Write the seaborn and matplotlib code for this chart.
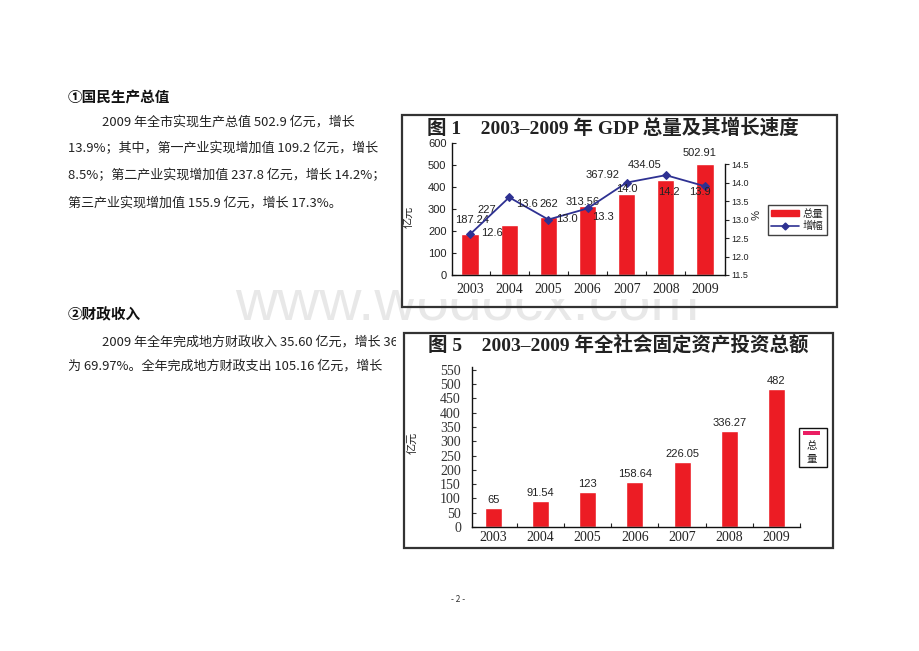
import numpy as np
import pandas as pd
import matplotlib
matplotlib.use('Agg')
import matplotlib.pyplot as plt
import seaborn as sns
from matplotlib.patches import Rectangle, Patch
from matplotlib.lines import Line2D
from matplotlib.transforms import Bbox, TransformedBbox

# ---------------- data ----------------
years = ['2003', '2004', '2005', '2006', '2007', '2008', '2009']
gdp_total = [187.24, 227, 262, 313.56, 367.92, 434.05, 502.91]
gdp_growth = [12.6, 13.6, 13.0, 13.3, 14.0, 14.2, 13.9]
invest_total = [65, 91.54, 123, 158.64, 226.05, 336.27, 482]
gdp_ticks = [0, 100, 200, 300, 400, 500, 600]
growth_ticks = [11.5, 12.0, 12.5, 13.0, 13.5, 14.0, 14.5]
invest_ticks = [0, 50, 100, 150, 200, 250, 300, 350, 400, 450, 500, 550]

title1 = '图 1    2003–2009 年 GDP 总量及其增长速度'
title2 = '图 5    2003–2009 年全社会固定资产投资总额'
heading1 = '①国民生产总值'
para1 = ['2009 年全市实现生产总值 502.9 亿元，增长',
         '13.9%；其中，第一产业实现增加值 109.2 亿元，增长',
         '8.5%；第二产业实现增加值 237.8 亿元，增长 14.2%；',
         '第三产业实现增加值 155.9 亿元，增长 17.3%。']
heading2 = '②财政收入'
para2 = ['2009 年全年完成地方财政收入 35.60 亿元，增长 36',
         '为 69.97%。全年完成地方财政支出 105.16 亿元，增长']

# label offsets in pixels (style only)
bar1_off = [(2, 14), (-22, 15), (0, 13), (-5, 4), (-24, 19), (-21, 15), (-5, 11)]
line1_off = [(22, 1), (18, -7), (19, 1), (15, -9), (0, -6), (3, -17), (-5, -6)]

RED = '#ec1c24'
BLUE = '#2e3192'

sns.set_theme(style='white')
plt.rcParams['font.family'] = ['Noto Sans CJK SC', 'DejaVu Sans']
plt.rcParams['axes.unicode_minus'] = False

W, H = 920, 651
fig = plt.figure(figsize=(9.2, 6.51), dpi=100)
fig.patch.set_facecolor('white')


def fx(x):
    return x / W


def fy(y):
    return 1 - y / H


def rect(x0, y0, x1, y1):
    return [fx(x0), fy(y1), (x1 - x0) / W, (y1 - y0) / H]


SERIF = ['Liberation Serif', 'Noto Sans CJK SC']
SANS = ['Liberation Sans', 'Noto Sans CJK SC']

# watermark (partly hidden behind the upper chart's white image)
fig.text(fx(467), fy(320), 'www.wodocx.com', fontsize=42, color='#e8e8e8',
         ha='center', va='baseline', family=['Liberation Sans', 'DejaVu Sans'], zorder=-5)
fig.add_artist(Rectangle((fx(402), fy(299)), (837 - 402) / W, (299 - 115) / H,
                         transform=fig.transFigure, fill=True, fc='white', ec='none', zorder=-4))

# ---------------- left text ----------------
fig.text(fx(68), fy(97), heading1, fontsize=10.5, fontweight='bold', ha='left', va='center', color='#111')
ys1 = [122, 148, 175, 203]
xs1 = [102, 68, 68, 68]
for t, x, y in zip(para1, xs1, ys1):
    fig.text(fx(x), fy(y), t, fontsize=9.4, ha='left', va='center', color='#222')
fig.text(fx(68), fy(314), heading2, fontsize=10.5, fontweight='bold', ha='left', va='center', color='#111')
ys2 = [342, 366]
xs2 = [102, 68]
clip = TransformedBbox(Bbox([[0, 0], [fx(396), 1]]), fig.transFigure)
for t, x, y in zip(para2, xs2, ys2):
    tt = fig.text(fx(x), fy(y), t, fontsize=9.4, ha='left', va='center', color='#222')
    tt.set_clip_box(clip)
    tt.set_clip_on(True)

fig.text(fx(458), fy(600), '- 2 -', fontsize=6, ha='center', va='center', color='#333')

# ---------------- chart 1 ----------------
fig.add_artist(Rectangle((fx(402), fy(307)), (837 - 402) / W, (307 - 115) / H,
                         transform=fig.transFigure, fill=False, ec='#333333', lw=1.6, zorder=10))
fig.text(fx(613), fy(128), title1, fontsize=14, fontweight='bold', ha='center', va='center',
         family=SERIF, color='#222')

ax1 = fig.add_axes(rect(452, 143, 725, 275))
ax1.set_facecolor('none')
df1 = pd.DataFrame({'year': years, 'total': gdp_total})
sns.barplot(data=df1, x='year', y='total', color=RED, width=0.44, saturation=1, ax=ax1)
ax1.set_ylim(0, 600)
ax1.set_yticks(gdp_ticks)
ax1.set_yticklabels([str(v) for v in gdp_ticks], family=SANS, fontsize=8)
ax1.set_xticks(range(len(years)))
ax1.set_xticklabels(years, family=SERIF, fontsize=10)
ax1.set_xticks(np.arange(len(years)) + 0.5, minor=True)
ax1.set_xlabel('')
ax1.set_ylabel('')
ax1.tick_params(axis='y', direction='in', length=3, width=0.8, pad=4, colors='#222', left=True)
ax1.tick_params(axis='x', which='major', length=0, pad=6, colors='#222')
ax1.tick_params(axis='x', which='minor', direction='in', length=3, width=0.8, bottom=True, colors='#222')
for s in ['top', 'right']:
    ax1.spines[s].set_visible(False)
for s in ['left', 'bottom']:
    ax1.spines[s].set_color('#111')
    ax1.spines[s].set_linewidth(1)
for i, (v, off) in enumerate(zip(gdp_total, bar1_off)):
    ax1.annotate(f'{v:g}', (i, v), xytext=off, textcoords='offset pixels',
                 ha='center', va='center', fontsize=8, family=SANS, color='#222')

ax1r = ax1.twinx()
ax1r.set_facecolor('none')
sns.lineplot(x=np.arange(len(years)), y=gdp_growth, ax=ax1r, color=BLUE, marker='D',
             markersize=4, markeredgecolor=BLUE, linewidth=1.3, legend=False)
ax1r.set_ylim(11.5, 15.07)
ax1r.set_yticks(growth_ticks)
ax1r.set_yticklabels([f'{v:.1f}' for v in growth_ticks], family=SANS, fontsize=6.5)
ax1r.set_ylabel('')
ax1r.tick_params(axis='y', direction='out', length=3, width=0.8, pad=1.5, colors='#222', right=True)
for s in ['top', 'left', 'bottom']:
    ax1r.spines[s].set_visible(False)
ax1r.spines['right'].set_color('#111')
ax1r.spines['right'].set_linewidth(1)
ax1r.spines['right'].set_bounds(11.5, 14.5)
for i, (v, off) in enumerate(zip(gdp_growth, line1_off)):
    ax1r.annotate(f'{v:.1f}', (i, v), xytext=off, textcoords='offset pixels',
                  ha='center', va='center', fontsize=8, family=SANS, color='#222')
ax1.set_xlim(-0.46, 6.51)
ax1r.set_xlim(-0.46, 6.51)

fig.text(fx(408), fy(217), '亿元', rotation=90, fontsize=8, ha='center', va='center', color='#222')
fig.text(fx(753), fy(215), '%', rotation=270, fontsize=8, ha='center', va='center', color='#222',
         family=SANS)

handles = [Patch(facecolor=RED, edgecolor=RED),
           Line2D([0], [0], color=BLUE, marker='D', markersize=3.5, lw=1.2)]
leg = ax1.legend(handles, ['总量', '增幅'], loc='center',
                 bbox_to_anchor=(fx(797.5), fy(220)), bbox_transform=fig.transFigure,
                 fontsize=7.5, frameon=True, fancybox=False, edgecolor='#111',
                 handlelength=2.6, handleheight=0.6, borderpad=0.3, labelspacing=0.25,
                 handletextpad=0.4, borderaxespad=0)
leg.get_frame().set_linewidth(1)
leg.set_zorder(20)

# ---------------- chart 2 ----------------
fig.add_artist(Rectangle((fx(404), fy(548)), (833 - 404) / W, (548 - 333) / H,
                         transform=fig.transFigure, fill=False, ec='#333333', lw=1.6, zorder=10))
fig.text(fx(618), fy(345), title2, fontsize=14, fontweight='bold', ha='center', va='center',
         family=SERIF, color='#222')

ax2 = fig.add_axes(rect(472, 367, 800, 527))
ax2.set_facecolor('none')
df2 = pd.DataFrame({'year': years, 'total': invest_total})
sns.barplot(data=df2, x='year', y='total', color=RED, width=0.36, saturation=1, ax=ax2)
ax2.set_ylim(0, 560)
ax2.set_xlim(-0.45, 6.5)
ax2.set_yticks(invest_ticks)
ax2.set_yticklabels([str(v) for v in invest_ticks], family=SERIF, fontsize=10)
ax2.set_xticks(range(len(years)))
ax2.set_xticklabels(years, family=SERIF, fontsize=10)
ax2.set_xticks(np.arange(len(years)) + 0.5, minor=True)
ax2.set_xlabel('')
ax2.set_ylabel('')
ax2.tick_params(axis='y', direction='in', length=3, width=0.8, pad=8, colors='#333', left=True)
ax2.tick_params(axis='x', which='major', length=0, pad=3, colors='#222')
ax2.tick_params(axis='x', which='minor', direction='in', length=3, width=0.8, bottom=True, colors='#222')
for s in ['top', 'right']:
    ax2.spines[s].set_visible(False)
for s in ['left', 'bottom']:
    ax2.spines[s].set_color('#111')
    ax2.spines[s].set_linewidth(1)
for i, v in enumerate(invest_total):
    ax2.annotate(f'{v:g}', (i, v), xytext=(0, 8), textcoords='offset pixels',
                 ha='center', va='center', fontsize=8, family=SANS, color='#222')

fig.text(fx(412), fy(443), '亿元', rotation=90, fontsize=8, ha='center', va='center', color='#222')

# chart 2 legend (manual)
fig.add_artist(Rectangle((fx(799), fy(467)), (827 - 799) / W, (467 - 428) / H,
                         transform=fig.transFigure, fill=True, fc='white', ec='#111', lw=1, zorder=12))
fig.add_artist(Rectangle((fx(803), fy(435)), (820 - 803) / W, (435 - 431) / H,
                         transform=fig.transFigure, fill=True, fc='#ea1e63', ec='none', zorder=13))
fig.text(fx(812), fy(446), '总', fontsize=7.5, ha='center', va='center', color='#222', zorder=14)
fig.text(fx(812), fy(459), '量', fontsize=7.5, ha='center', va='center', color='#222', zorder=14)

fig.savefig('out.png', dpi=100, facecolor='white')
